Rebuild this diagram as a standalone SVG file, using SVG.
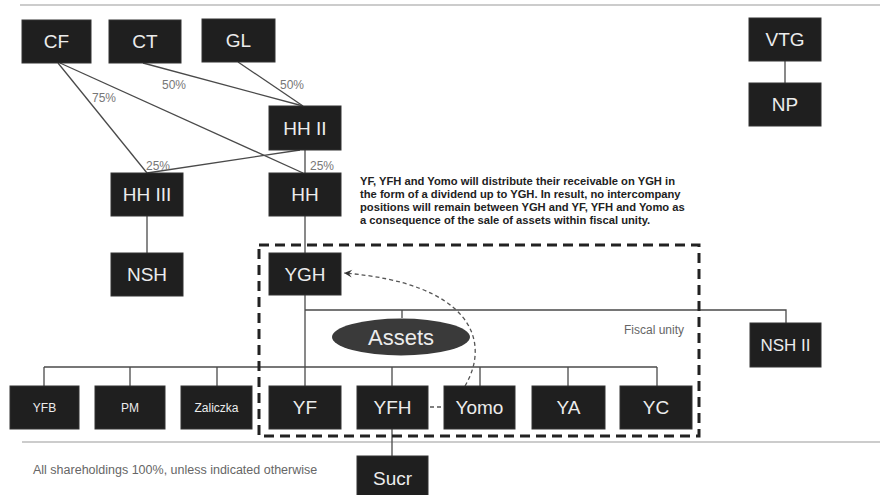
<svg xmlns="http://www.w3.org/2000/svg" width="880" height="495" viewBox="0 0 880 495">
<defs>
<style>
.n rect{fill:#1f1f1f;stroke:#333;stroke-width:1}
.n text{fill:#ececec;font-family:"Liberation Sans",Arial,sans-serif;font-size:19px;text-anchor:middle;dominant-baseline:central}
.n text.s{font-size:12px}
.c line,.c polyline{stroke:#4a4a4a;stroke-width:1.3;fill:none}
.pct{fill:#777;font-family:"Liberation Sans",Arial,sans-serif;font-size:12px}
.note{fill:#222;font-family:"Liberation Sans",Arial,sans-serif;font-size:11.2px;font-weight:bold}
.sep{stroke:#bbb;stroke-width:1.5}
</style>
<marker id="ah" markerWidth="10" markerHeight="10" refX="9" refY="5" orient="auto" markerUnits="userSpaceOnUse">
<path d="M1,1 L9,5 L1,9 L4,5 Z" fill="#333"/>
</marker>
</defs>
<rect width="880" height="495" fill="#fff"/>
<line class="sep" x1="20" y1="5" x2="880" y2="5"/>
<line class="sep" x1="22" y1="442" x2="880" y2="442"/>

<g id="connectors" class="c">
<line x1="58" y1="63" x2="147" y2="173"/>
<line x1="60" y1="63" x2="303" y2="173"/>
<line x1="143" y1="63" x2="303" y2="106"/>
<line x1="238" y1="62" x2="303" y2="106"/>
<line x1="300" y1="150" x2="147" y2="173"/>
<line x1="305" y1="150" x2="305" y2="173"/>
<line x1="147" y1="216" x2="147" y2="253"/>
<line x1="305" y1="216" x2="305" y2="253"/>
<line x1="305" y1="295" x2="305" y2="386"/>
<polyline points="305,310 786,310 786,323"/>
<line x1="402" y1="310" x2="402" y2="318"/>
<line x1="44" y1="367" x2="657" y2="367"/>
<line x1="44" y1="367" x2="44" y2="386"/>
<line x1="130" y1="367" x2="130" y2="386"/>
<line x1="217" y1="367" x2="217" y2="386"/>
<line x1="392" y1="367" x2="392" y2="386"/>
<line x1="480" y1="367" x2="480" y2="386"/>
<line x1="568" y1="367" x2="568" y2="386"/>
<line x1="657" y1="367" x2="657" y2="386"/>
<line x1="392" y1="429" x2="392" y2="456"/>
<line x1="785" y1="61" x2="785" y2="83"/>
<path d="M430,407 L444,407" stroke="#555" stroke-width="1.3" stroke-dasharray="4 3" fill="none"/>
<path d="M465,386 C492,340 470,283 344,273" stroke="#555" stroke-width="1.3" stroke-dasharray="4 3" fill="none" marker-end="url(#ah)"/>
</g>

<text class="pct" x="92" y="102">75%</text>
<text class="pct" x="162" y="89">50%</text>
<text class="pct" x="280" y="89">50%</text>
<text class="pct" x="146" y="170">25%</text>
<text class="pct" x="310" y="170">25%</text>

<rect x="259" y="245" width="440" height="191" fill="none" stroke="#222" stroke-width="3" stroke-dasharray="10 6"/>
<text x="624" y="334" fill="#666" font-family="Liberation Sans, Arial, sans-serif" font-size="12">Fiscal unity</text>

<g class="note">
<text x="360" y="185">YF, YFH and Yomo will distribute their receivable on YGH in</text>
<text x="360" y="198">the form of a dividend up to YGH. In result, no intercompany</text>
<text x="360" y="211">positions will remain between YGH and YF, YFH and Yomo as</text>
<text x="360" y="224">a consequence of the sale of assets within fiscal unity.</text>
</g>

<text x="33" y="474" fill="#666" font-family="Liberation Sans, Arial, sans-serif" font-size="12.5">All shareholdings 100%, unless indicated otherwise</text>

<g id="CF" class="n"><rect x="22" y="20" width="69" height="43"/><text x="56.5" y="41.5">CF</text></g>
<g id="CT" class="n"><rect x="109" y="20" width="72" height="43"/><text x="145" y="41.5">CT</text></g>
<g id="GL" class="n"><rect x="202" y="19" width="73" height="43"/><text x="238.5" y="40.5">GL</text></g>
<g id="HHII" class="n"><rect x="269" y="106" width="72" height="44"/><text x="305" y="128">HH II</text></g>
<g id="HHIII" class="n"><rect x="111" y="173" width="72" height="43"/><text x="147" y="194.5">HH III</text></g>
<g id="HH" class="n"><rect x="269" y="173" width="72" height="43"/><text x="305" y="194.5">HH</text></g>
<g id="NSH" class="n"><rect x="111" y="253" width="72" height="43"/><text x="147" y="274.5">NSH</text></g>
<g id="YGH" class="n"><rect x="269" y="253" width="72" height="42"/><text x="305" y="274">YGH</text></g>
<g id="VTG" class="n"><rect x="749" y="18" width="72" height="43"/><text x="785" y="39.5">VTG</text></g>
<g id="NP" class="n"><rect x="749" y="83" width="72" height="43"/><text x="785" y="104.5">NP</text></g>
<g id="NSHII" class="n"><rect x="750" y="323" width="71" height="44"/><text x="785.5" y="345" style="font-size:17px">NSH II</text></g>
<g id="Assets" class="n"><ellipse cx="401" cy="337" rx="69" ry="18.5" fill="#3a3a3a"/><text x="401" y="337" style="font-size:22px">Assets</text></g>
<g id="YFB" class="n"><rect x="10" y="386" width="69" height="43"/><text class="s" x="44.5" y="407.5">YFB</text></g>
<g id="PM" class="n"><rect x="95" y="386" width="70" height="43"/><text class="s" x="130" y="407.5">PM</text></g>
<g id="Zaliczka" class="n"><rect x="181" y="386" width="71" height="43"/><text class="s" x="216.5" y="407.5">Zaliczka</text></g>
<g id="YF" class="n"><rect x="269" y="386" width="72" height="43"/><text x="305" y="407.5">YF</text></g>
<g id="YFH" class="n"><rect x="357" y="386" width="71" height="43"/><text x="392.5" y="407.5">YFH</text></g>
<g id="Yomo" class="n"><rect x="444" y="386" width="71" height="43"/><text x="479.5" y="407.5">Yomo</text></g>
<g id="YA" class="n"><rect x="532" y="386" width="73" height="43"/><text x="568.5" y="407.5">YA</text></g>
<g id="YC" class="n"><rect x="620" y="386" width="72" height="43"/><text x="656" y="407.5">YC</text></g>
<g id="Sucr" class="n"><rect x="357" y="456" width="71" height="44"/><text x="392.5" y="478">Sucr</text></g>
</svg>
